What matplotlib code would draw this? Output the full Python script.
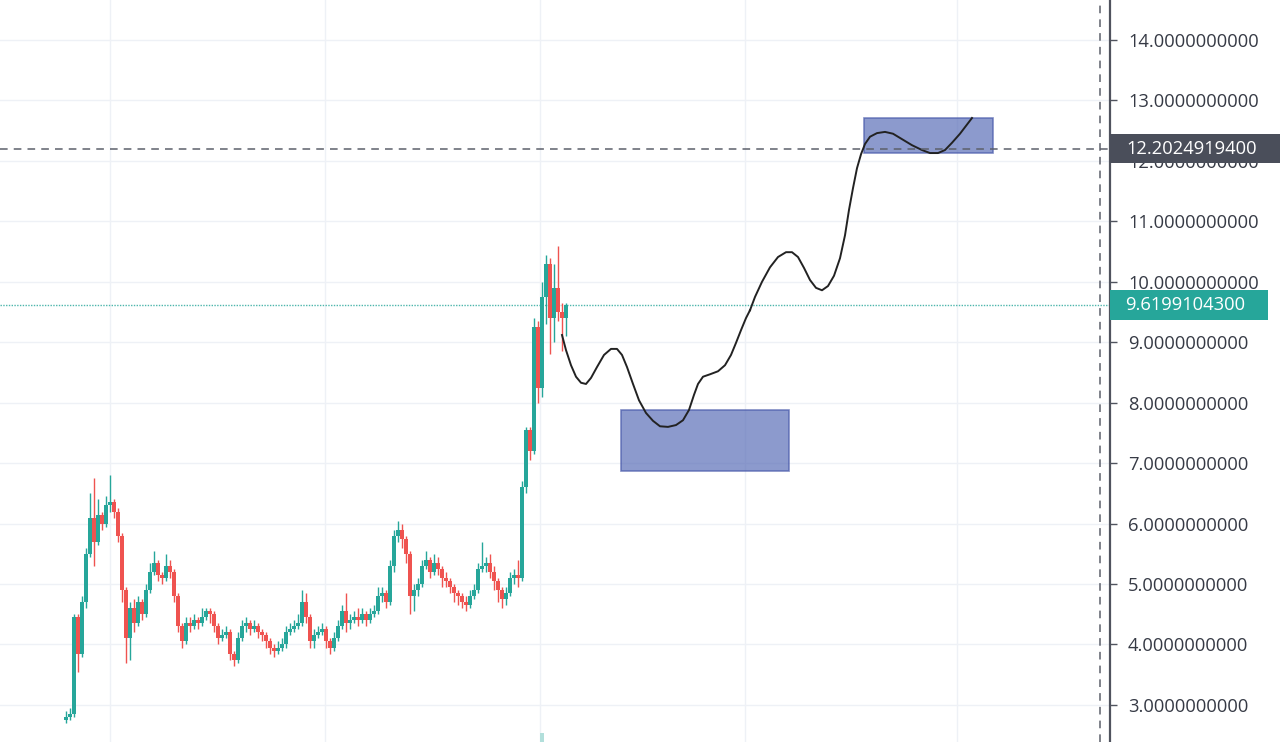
import numpy as np
import matplotlib.pyplot as plt
from matplotlib.patches import Rectangle

# candle data (index = bar number)
closes = [2.80, 2.85, 4.45, 3.85, 4.70, 5.50, 6.10, 5.70, 6.15, 6.00,
          6.30, 6.35, 6.20, 5.80, 4.90, 4.10, 4.60, 4.35, 4.70, 4.50,
          4.90, 5.20, 5.35, 5.15, 5.10, 5.30, 5.20, 4.80, 4.30, 4.05,
          4.35, 4.30, 4.40, 4.35, 4.45, 4.55, 4.50, 4.30, 4.10, 4.15,
          4.20, 3.85, 3.75, 4.10, 4.30, 4.35, 4.25, 4.30, 4.20, 4.15,
          4.05, 3.95, 3.90, 3.95, 4.00, 4.20, 4.25, 4.30, 4.35, 4.70,
          4.45, 4.05, 4.15, 4.20, 4.25, 4.05, 3.95, 4.10, 4.30, 4.55,
          4.35, 4.40, 4.45, 4.40, 4.50, 4.40, 4.50, 4.55, 4.80, 4.85,
          4.70, 5.30, 5.80, 5.90, 5.75, 5.50, 4.80, 4.90, 5.00, 5.30,
          5.40, 5.20, 5.35, 5.25, 5.10, 5.05, 4.95, 4.85, 4.80, 4.70,
          4.65, 4.80, 4.90, 5.25, 5.30, 5.35, 5.20, 5.05, 4.90, 4.75,
          4.85, 5.10, 5.15, 5.10, 6.60, 7.55, 7.20, 9.25, 8.25, 9.75,
          10.30, 9.40, 9.90, 9.50, 9.40, 9.62]
highs = [2.90, 2.95, 4.50, 4.50, 4.80, 5.60, 6.50, 6.75, 6.40, 6.20,
         6.45, 6.80, 6.40, 6.25, 5.85, 4.95, 4.70, 4.75, 4.80, 4.75,
         5.00, 5.35, 5.55, 5.40, 5.20, 5.50, 5.40, 5.25, 4.85, 4.35,
         4.45, 4.45, 4.50, 4.45, 4.60, 4.60, 4.60, 4.55, 4.35, 4.25,
         4.30, 4.25, 3.90, 4.20, 4.40, 4.45, 4.40, 4.40, 4.35, 4.25,
         4.20, 4.10, 4.00, 4.05, 4.10, 4.30, 4.35, 4.40, 4.50, 4.90,
         4.85, 4.50, 4.25, 4.30, 4.35, 4.30, 4.10, 4.20, 4.40, 4.65,
         4.85, 4.50, 4.55, 4.60, 4.60, 4.55, 4.60, 4.65, 4.95, 4.95,
         4.90, 5.40, 5.90, 6.05, 6.00, 5.80, 5.55, 5.00, 5.10, 5.40,
         5.55, 5.45, 5.50, 5.45, 5.30, 5.20, 5.10, 5.00, 4.90, 4.85,
         4.80, 4.90, 5.00, 5.35, 5.70, 5.45, 5.50, 5.30, 5.10, 4.95,
         4.95, 5.20, 5.25, 5.40, 6.70, 7.60, 7.60, 9.40, 9.35, 10.00,
         10.45, 10.40, 10.30, 10.60, 9.65, 9.65]
lows = [2.70, 2.75, 2.80, 3.55, 3.80, 4.60, 5.45, 5.30, 5.65, 5.90,
        5.95, 6.20, 6.10, 5.70, 4.70, 3.70, 3.75, 4.20, 4.30, 4.40,
        4.45, 4.85, 5.15, 5.05, 5.00, 5.05, 5.10, 4.70, 4.20, 3.95,
        4.00, 4.20, 4.25, 4.25, 4.30, 4.40, 4.35, 4.20, 4.00, 4.05,
        4.10, 3.75, 3.65, 3.70, 4.05, 4.20, 4.15, 4.20, 4.10, 4.05,
        3.95, 3.85, 3.80, 3.85, 3.90, 3.95, 4.15, 4.20, 4.25, 4.30,
        4.35, 3.95, 3.95, 4.10, 4.15, 3.95, 3.85, 3.90, 4.05, 4.25,
        4.20, 4.25, 4.35, 4.30, 4.35, 4.30, 4.35, 4.45, 4.50, 4.70,
        4.60, 4.65, 5.20, 5.70, 5.60, 5.35, 4.50, 4.55, 4.80, 4.95,
        5.25, 5.10, 5.15, 5.15, 4.95, 4.95, 4.85, 4.70, 4.65, 4.60,
        4.55, 4.60, 4.75, 4.85, 5.20, 5.20, 5.10, 4.90, 4.70, 4.60,
        4.65, 4.80, 5.00, 4.95, 5.05, 6.50, 7.05, 7.15, 8.00, 8.10,
        9.30, 8.80, 9.00, 9.35, 8.85, 9.10]
first_open = 2.75
vol_idx = [119]
vol_top = [2.54]

# drawn projection path
path1_x = [124.0, 125.0, 126.25, 127.5, 128.75, 130.0, 131.25, 132.75, 134.5, 136.25,
           137.75, 139.0, 140.25, 141.75, 143.25, 145.0, 146.75, 148.5, 150.5, 152.5,
           154.25, 155.75, 157.0, 158.0, 159.25, 161.0, 163.0, 164.75, 166.25, 167.5,
           168.75, 170.0, 171.0]
path1_y = [9.12, 8.87, 8.62, 8.43, 8.33, 8.31, 8.41, 8.59, 8.79, 8.89,
           8.89, 8.79, 8.59, 8.31, 8.04, 7.83, 7.70, 7.61, 7.60, 7.63,
           7.71, 7.88, 8.13, 8.31, 8.43, 8.47, 8.52, 8.62, 8.79, 8.99,
           9.20, 9.40, 9.53]
path2_x = [171.0, 172.25, 174.0, 176.0, 178.0, 180.0, 181.5, 183.0, 184.5, 186.0,
           187.5, 189.0, 190.5, 192.0, 193.5, 194.75, 195.75, 196.75, 197.75, 198.75,
           199.75, 201.0, 202.75, 204.75, 206.75, 209.0, 211.5, 214.0, 216.0, 218.0,
           219.75, 221.5, 223.5, 225.0, 226.5]
path2_y = [9.53, 9.75, 10.00, 10.24, 10.41, 10.49, 10.49, 10.41, 10.23, 10.03,
           9.90, 9.86, 9.93, 10.10, 10.39, 10.77, 11.19, 11.55, 11.88, 12.11,
           12.28, 12.40, 12.46, 12.48, 12.45, 12.36, 12.26, 12.18, 12.13, 12.13,
           12.18, 12.30, 12.45, 12.58, 12.71]

# zones: (x0, x1, y0, y1)
zones = [(138.75, 180.75, 6.87, 7.88), (199.5, 231.75, 12.13, 12.71)]

date_lines = [11, 64.75, 118.5, 169.75, 222.75]
price_ticks = [3, 4, 5, 6, 7, 8, 9, 10, 11, 12, 13, 14]
last_price = 9.6199104300
cross_price = 12.2024919400
cross_bar = 258.5

green = '#26a69a'
red = '#ef5350'

fig = plt.figure(figsize=(12.8, 7.42), dpi=100)
ax = fig.add_axes([0, 0, 1110 / 1280, 1])
ax.set_xlim(-16.5, 261)
ax.set_ylim(2.387, 14.662)

# grid
for g in date_lines:
    ax.axvline(g, color='#eef1f6', lw=1, zorder=0)
for p in price_ticks:
    ax.axhline(p, color='#eef1f6', lw=1, zorder=0)

opens = [first_open] + closes[:-1]
idx = np.arange(len(closes))
cols = [green if c >= o else red for o, c in zip(opens, closes)]
ax.vlines(idx, lows, highs, colors=cols, lw=1.0, zorder=2)
bottoms = [min(o, c) for o, c in zip(opens, closes)]
heights = [max(abs(c - o), 0.04) for o, c in zip(opens, closes)]
ax.bar(idx, heights, bottom=bottoms, width=0.92, color=cols, lw=0, zorder=3)

# volume sliver at bottom
ax.bar(vol_idx, [t - 2.387 for t in vol_top], bottom=2.387, width=0.9,
       color='#b2dfdb', lw=0, zorder=1)

# zones
for x0, x1, y0, y1 in zones:
    ax.add_patch(Rectangle((x0, y0), x1 - x0, y1 - y0, facecolor='#5b6fb8',
                           alpha=0.7, edgecolor='#4a5bab', lw=1.2, zorder=4))

ax.plot(path1_x, path1_y, color='#222222', lw=1.4, zorder=5)
ax.plot(path2_x, path2_y, color='#222222', lw=1.4, zorder=5)

# reference lines
ax.axhline(last_price, color='#4db6ac', lw=1.0, ls=(0, (1, 1)), zorder=1)
ax.axhline(cross_price, color='#5d606b', lw=1.1, ls=(0, (5, 4)), zorder=6)
ax.axvline(cross_bar, color='#5d606b', lw=1.1, ls=(0, (5, 4)), zorder=6)

# right price scale
for s in ['top', 'left', 'bottom']:
    ax.spines[s].set_visible(False)
ax.spines['right'].set_color('#50535e')
ax.spines['right'].set_linewidth(1.6)
ax.set_xticks([])
ax.yaxis.tick_right()
ax.set_yticks(price_ticks)
ax.set_yticklabels(['%.10f' % p for p in price_ticks])
ax.tick_params(axis='y', direction='out', length=5, width=1, color='#50535e',
               pad=8, labelsize=13.2, labelcolor='#363a45')
for lab in ax.get_yticklabels():
    lab.set_fontfamily('Open Sans')

trans = ax.get_yaxis_transform()
box_w1 = 170 / 1110
box_w2 = 158 / 1110
h = 0.49
ax.add_patch(Rectangle((1.0, cross_price - h / 2), box_w1, h, transform=trans,
                       facecolor='#4a4e5a', edgecolor='none', clip_on=False, zorder=10))
ax.text(1 + 16 / 1110, cross_price, '%.10f' % cross_price, transform=trans,
        color='white', fontsize=13.2, family='Open Sans', va='center', ha='left',
        clip_on=False, zorder=11)
ax.add_patch(Rectangle((1.0, last_price - h / 2), box_w2, h, transform=trans,
                       facecolor=green, edgecolor='none', clip_on=False, zorder=10))
ax.text(1 + 15 / 1110, last_price, '%.10f' % last_price, transform=trans,
        color='white', fontsize=13.2, family='Open Sans', va='center', ha='left',
        clip_on=False, zorder=11)

plt.savefig('out.png', dpi=100)
